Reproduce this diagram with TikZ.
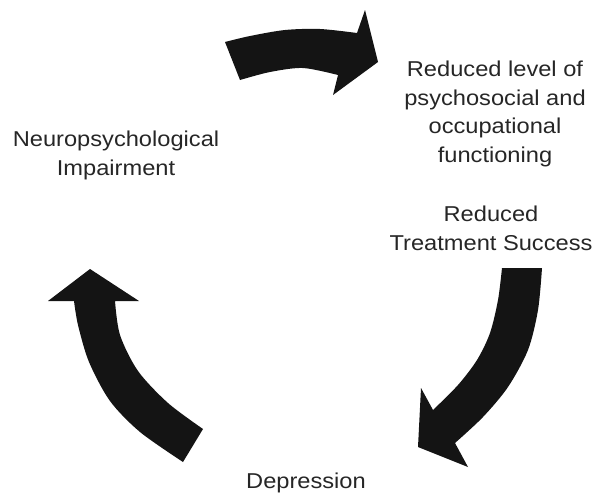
\documentclass[tikz,border=0pt]{standalone}
\usepackage{fontspec}
\setmainfont{Liberation Sans}[FakeStretch=1.1]
\begin{document}
\begin{tikzpicture}[x=1pt,y=-1pt,
  bigarrow/.style={fill=black!92},
  label/.style={text=black!85, font=\fontsize{21.5}{28.5}\selectfont, align=center, inner sep=0pt}]
\useasboundingbox (0,0) rectangle (602,493);

% labels
\node[label, anchor=north] (func) at (495,61)
  {Reduced level of\\psychosocial and\\occupational\\functioning};
\node[label, anchor=north] (treat) at (491,206) {Reduced\\Treatment Success};
\node[label, anchor=north] (neuro) at (116,131) {Neuropsychological\\Impairment};
\node[label, anchor=north] (dep) at (306,473) {Depression};

% top arrow: impairment -> functioning
\fill[bigarrow] (225,42)
  -- plot[smooth] coordinates {(225,42) (250,36) (285,30) (320,29) (357,33)}
  -- (365,10) -- (378,62) -- (333,95) -- (338,75)
  -- plot[smooth] coordinates {(338,75) (303,68) (270,72) (240,80)}
  -- cycle;

% right arrow: treatment success -> depression
\fill[bigarrow] (502,268) -- (542,268)
  -- plot[smooth] coordinates {(542,268) (538,310) (528,350) (508,387) (483,417) (455,443)}
  -- (468,467) -- (418,447) -- (421,388) -- (433,410)
  -- plot[smooth] coordinates {(433,410) (458,385) (477,360) (490,333) (498,300) (502,268)}
  -- cycle;

% left arrow: depression -> impairment
\fill[bigarrow] (183,462)
  -- plot[smooth] coordinates {(183,462) (140,432) (110,401) (89,362) (78,325) (74,301)}
  -- (48,301) -- (90,269) -- (139,301) -- (115,301)
  -- plot[smooth] coordinates {(115,301) (120,335) (138,371) (168,403) (203,429)}
  -- cycle;
\end{tikzpicture}
\end{document}
